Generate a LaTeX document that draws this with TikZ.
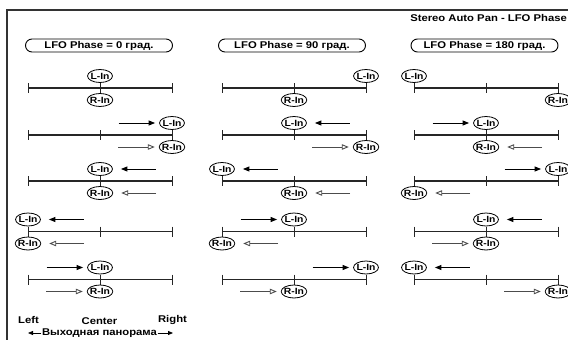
\documentclass[tikz,border=0pt]{standalone}
\usepackage{fontspec}
\setmainfont{Liberation Sans}[FakeStretch=1.15]
\usetikzlibrary{arrows.meta,calc,shapes.geometric}
\newcommand\mainfs{\fontsize{9.8}{11}\selectfont\bfseries}
\newcommand\labfs{\fontsize{9}{10}\selectfont\bfseries}
\begin{document}
\begin{tikzpicture}[x=1pt,y=-1pt,
  frameline/.style={line width=1.3pt,draw=black!80},
  axis/.style={line width=1.3pt,draw=black!85},
  tickmark/.style={line width=0.9pt,draw=black!85},
  lab/.style={ellipse,draw,line width=0.8pt,fill=white,inner xsep=-1pt,inner ysep=0pt,
              minimum width=25pt,minimum height=13pt,font=\labfs},
  pill/.style={draw,line width=0.9pt,rounded corners=6.5pt,minimum width=147pt,
               minimum height=13pt,inner sep=0pt,font=\mainfs},
  txt/.style={font=\mainfs,inner sep=0.5pt},
  larr/.style={-{Triangle[length=6.5pt,width=5pt]},line width=0.9pt},
  rarr/.style={-{Triangle[open,length=7pt,width=5.5pt,fill=white,line width=0.9pt]},line width=0.9pt,draw=black!70},
  panarr/.style={-{Triangle[length=5pt,width=4pt]},line width=0.8pt}
]
\useasboundingbox (0,0) rectangle (568,340);
\clip (0,0) rectangle (568,340);
% frame
\draw[frameline] (568,10) -- (7,10) -- (7,341);
\node[txt,anchor=east] (title) at (567.5,17.5) {Stereo Auto Pan - LFO Phase};
% headers
\node[pill] (h1) at (99,45.5) {LFO Phase = 0 град.};
\node[pill] (h2) at (292,45.5) {LFO Phase = 90 град.};
\node[pill] (h3) at (484.5,45.5) {LFO Phase = 180 град.};
% rows
\foreach \c/\r/\lp/\rp/\ld/\rd in {
  1/1/1/1/0/0, 1/2/2/2/1/1, 1/3/1/1/-1/-1, 1/4/0/0/-1/-1, 1/5/1/1/1/1,
  2/1/2/1/0/0, 2/2/1/2/-1/1, 2/3/0/1/-1/-1, 2/4/1/0/1/-1, 2/5/2/1/1/1,
  3/1/0/2/0/0, 3/2/1/1/1/-1, 3/3/2/0/1/-1, 3/4/1/1/-1/1, 3/5/0/2/-1/1}{
  \pgfmathsetmacro{\xo}{{28,222,414}[\c-1]}
  \pgfmathsetmacro{\yy}{{88,135,181,231.5,279.5}[\r-1]}
  \coordinate (a\c\r0) at (\xo,\yy);
  \coordinate (a\c\r1) at (\xo+72,\yy);
  \coordinate (a\c\r2) at (\xo+144,\yy);
  \draw[axis] (a\c\r0) -- (a\c\r2);
  \foreach \k in {0,1,2}{
    \draw[tickmark] ($(a\c\r\k)+(0,-5)$) -- ($(a\c\r\k)+(0,5)$);
  }
  \node[lab] (L\c\r) at ($(a\c\r\lp)+(0,-12)$) {L-In};
  \node[lab] (R\c\r) at ($(a\c\r\rp)+(0,12)$) {R-In};
  \ifnum\ld>0
    \draw[larr] ($(L\c\r.west)+(-40.5,0)$) -- ($(L\c\r.west)+(-4,0)$);
  \fi
  \ifnum\ld<0
    \draw[larr] ($(L\c\r.east)+(43,0)$) -- ($(L\c\r.east)+(8,0)$);
  \fi
  \ifnum\rd>0
    \draw[rarr] ($(R\c\r.west)+(-40.5,0)$) -- ($(R\c\r.west)+(-4,0)$);
  \fi
  \ifnum\rd<0
    \draw[rarr] ($(R\c\r.east)+(43,0)$) -- ($(R\c\r.east)+(8,0)$);
  \fi
}
% bottom legend
\node[txt] (left) at (28.5,320) {Left};
\node[txt] (center) at (99.5,321.5) {Center};
\node[txt] (right) at (172.5,320) {Right};
\node[txt] (pan) at (99.5,333) {Выходная панорама};
\coordinate (pl) at (28,333);
\coordinate (pr) at (173,333);
\draw[panarr] (pan.west) -- (pl);
\draw[panarr] (pan.east) -- (pr);
\end{tikzpicture}
\end{document}
